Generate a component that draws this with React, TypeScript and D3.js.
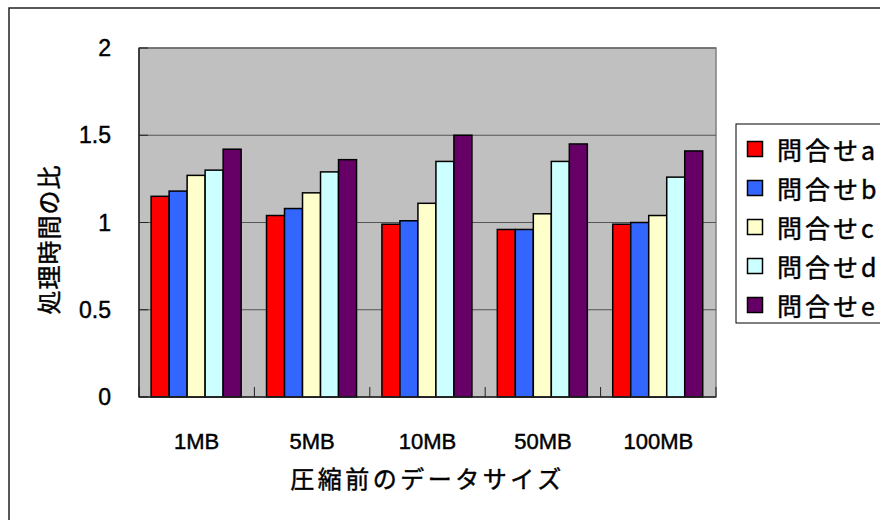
import React from "react";
import * as d3 from "d3";

const categories = ["1MB", "5MB", "10MB", "50MB", "100MB"];
const seriesNames = ["問合せa", "問合せb", "問合せc", "問合せd", "問合せe"];
const seriesColors = ["#FF0000", "#3366FF", "#FFFFCC", "#CCFFFF", "#660066"];
const valuesA = [1.15, 1.04, 0.99, 0.96, 0.99];
const valuesB = [1.18, 1.08, 1.01, 0.96, 1.0];
const valuesC = [1.27, 1.17, 1.11, 1.05, 1.04];
const valuesD = [1.3, 1.29, 1.35, 1.35, 1.26];
const valuesE = [1.42, 1.36, 1.5, 1.45, 1.41];
const yTicks = [0, 0.5, 1, 1.5, 2];
const yTickLabels = ["0", "0.5", "1", "1.5", "2"];
const xTitle = "圧縮前のデータサイズ";
const yTitle = "処理時間の比";

const seriesValues = [valuesA, valuesB, valuesC, valuesD, valuesE];

const W = 880;
const H = 520;
const plot = { left: 139, right: 716, top: 48, bottom: 397 };
const numFont = "'Liberation Sans', Arial, sans-serif";
const cjkFont = "'Noto Sans CJK JP', sans-serif";
const textStroke = { stroke: "#000", strokeWidth: 0.45 };

export default function App() {
  const x0 = d3
    .scaleBand<string>()
    .domain(categories)
    .range([plot.left, plot.right])
    .padding(0);
  const step = x0.step();
  const x1 = d3
    .scaleBand<string>()
    .domain(seriesNames)
    .range([step * 0.105, step * 0.885])
    .padding(0);
  const y = d3.scaleLinear().domain([0, 2]).range([plot.bottom, plot.top]);

  const boundaries = d3.range(categories.length + 1).map((i) => plot.left + i * step);

  const legendX = 736;
  const legendY = 124;
  const legendRow0 = 149;
  const legendStep = 39;

  return (
    <div style={{ position: "fixed", left: 0, top: 0, width: W, height: H }}>
      <svg width={W} height={H} style={{ display: "block", background: "#fff" }}>
        <rect x={0} y={0} width={W} height={H} fill="#fff" />
        {/* outer chart frame */}
        <rect x={9} y={8} width={W + 20} height={H + 20} fill="none" stroke="#222" strokeWidth={1.5} />
        {/* plot area */}
        <rect
          x={plot.left}
          y={plot.top}
          width={plot.right - plot.left}
          height={plot.bottom - plot.top}
          fill="#C0C0C0"
          stroke="#808080"
          strokeWidth={1.5}
        />
        {/* gridlines */}
        {yTicks.slice(1).map((t) => (
          <line
            key={"g" + t}
            x1={plot.left}
            x2={plot.right}
            y1={y(t)}
            y2={y(t)}
            stroke="#555"
            strokeWidth={1}
          />
        ))}
        {/* bars */}
        {categories.map((c, ci) => (
          <g key={c} transform={`translate(${x0(c)},0)`}>
            {seriesNames.map((s, si) => {
              const v = seriesValues[si][ci];
              return (
                <rect
                  key={s}
                  x={x1(s)}
                  y={y(v)}
                  width={x1.bandwidth()}
                  height={y(0) - y(v)}
                  fill={seriesColors[si]}
                  stroke="#000"
                  strokeWidth={1.5}
                />
              );
            })}
          </g>
        ))}
        {/* axes */}
        <line x1={plot.left} x2={plot.left} y1={plot.top} y2={plot.bottom} stroke="#222" strokeWidth={1.5} />
        <line x1={plot.left} x2={plot.right} y1={plot.bottom} y2={plot.bottom} stroke="#222" strokeWidth={1.5} />
        {yTicks.map((t) => (
          <line key={"yt" + t} x1={plot.left} x2={plot.left + 9} y1={y(t)} y2={y(t)} stroke="#222" strokeWidth={1} />
        ))}
        {boundaries.map((b, i) => (
          <line key={"xt" + i} x1={b} x2={b} y1={plot.bottom} y2={plot.bottom - 10} stroke="#222" strokeWidth={1} />
        ))}
        {/* y tick labels */}
        {yTicks.map((t, i) => (
          <text
            key={"yl" + t}
            x={111}
            y={y(t)}
            textAnchor="end"
            dominantBaseline="central"
            fontFamily={numFont}
            fontSize={23}
            fill="#000"
            {...textStroke}
          >
            {yTickLabels[i]}
          </text>
        ))}
        {/* x tick labels */}
        {categories.map((c) => (
          <text
            key={"xl" + c}
            x={(x0(c) as number) + step / 2}
            y={441}
            textAnchor="middle"
            dominantBaseline="central"
            fontFamily={numFont}
            fontSize={22}
            fill="#000"
            {...textStroke}
          >
            {c}
          </text>
        ))}
        {/* axis titles */}
        <text
          x={(plot.left + plot.right) / 2}
          y={477}
          textAnchor="middle"
          dominantBaseline="central"
          fontFamily={cjkFont}
          fontSize={24}
          letterSpacing={3.5}
          fill="#000"
          {...textStroke}
        >
          {xTitle}
        </text>
        <text
          transform={`translate(47,${(plot.top + plot.bottom) / 2 + 17}) rotate(-90)`}
          textAnchor="middle"
          dominantBaseline="central"
          fontFamily={cjkFont}
          fontSize={24}
          letterSpacing={1}
          fill="#000"
          {...textStroke}
        >
          {yTitle}
        </text>
        {/* legend */}
        <rect x={legendX} y={legendY} width={200} height={199} fill="#fff" stroke="#000" strokeWidth={1} />
        {seriesNames.map((s, i) => {
          const cy = legendRow0 + i * legendStep;
          return (
            <g key={"lg" + s}>
              <rect x={747.5} y={cy - 7.5} width={15} height={15} fill={seriesColors[i]} stroke="#000" strokeWidth={1.5} />
              <text
                x={777}
                y={cy}
                dominantBaseline="central"
                fontFamily={cjkFont}
                fontSize={25}
                letterSpacing={3}
                fill="#000"
                {...textStroke}
              >
                {s}
              </text>
            </g>
          );
        })}
      </svg>
    </div>
  );
}
